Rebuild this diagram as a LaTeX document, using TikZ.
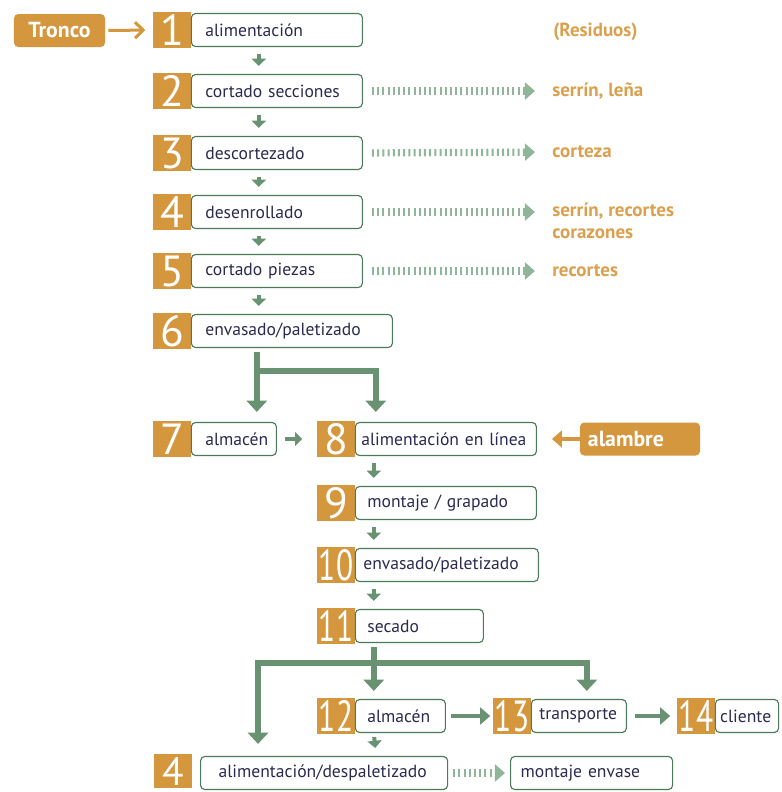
\documentclass[tikz,border=0pt]{standalone}
\usepackage{fontspec}
\setmainfont{PT Sans}
\usetikzlibrary{arrows.meta}

\definecolor{woodOrange}{RGB}{212,151,62}
\definecolor{resOrange}{RGB}{219,160,78}
\definecolor{boxGreen}{RGB}{74,122,88}
\definecolor{arrowGreen}{RGB}{104,146,114}
\definecolor{dotGreen}{RGB}{143,182,152}
\definecolor{stepText}{RGB}{42,42,82}

\begin{document}
\begin{tikzpicture}[
    x=0.025cm, y=-0.025cm,
    numsq/.style={rectangle, fill=woodOrange, text=white, minimum width=0.925cm, minimum height=0.9cm, inner sep=0pt, font=\fontsize{31}{31}\selectfont},
    stepbox/.style={rectangle, draw=boxGreen, fill=white, line width=0.8pt, rounded corners=3pt, minimum height=0.825cm, inner xsep=0.35cm, inner ysep=0pt, align=left, anchor=west, text=stepText, font=\fontsize{12.5}{14}\selectfont},
    inbox/.style={rectangle, fill=woodOrange, rounded corners=3pt, minimum height=0.825cm, text=white, font=\bfseries\fontsize{15.5}{17}\selectfont},
    reslabel/.style={anchor=west, inner sep=0pt, text=resOrange, align=left, font=\bfseries\fontsize{13.5}{15.5}\selectfont},
    smallarr/.style={-{Triangle[width=0.35cm,length=0.18cm]}, line width=0.1cm, arrowGreen},
    bigarr/.style={-{Triangle[width=0.5cm,length=0.28cm]}, line width=0.15cm, arrowGreen},
    medarr/.style={-{Triangle[width=0.42cm,length=0.25cm]}, line width=0.12cm, arrowGreen},
    dotarr/.style={-{Triangle[width=0.42cm,length=0.25cm]}, line width=0.18cm, dotGreen, dash pattern=on 0.05cm off 0.08cm},
    inarr/.style={-{Straight Barb[width=0.4cm,length=0.2cm]}, line width=0.075cm, woodOrange}
]
    \useasboundingbox (0,0) rectangle (782,792);

    % Input
    \node[inbox, minimum width=2.275cm] (tronco) at (59.5,30.5) {Tronco};

    % First line: log processing
    \node[numsq] (q1) at (172,30) {1};
    \node[stepbox, text width=3.575cm] (b1) at (q1.east) {alimentación};
    \node[numsq] (q2) at (172,91) {2};
    \node[stepbox, text width=3.575cm] (b2) at (q2.east) {cortado secciones};
    \node[numsq] (q3) at (172,153) {3};
    \node[stepbox, text width=3.575cm] (b3) at (q3.east) {descortezado};
    \node[numsq] (q4) at (172,212) {4};
    \node[stepbox, text width=3.575cm] (b4) at (q4.east) {desenrollado};
    \node[numsq] (q5) at (172,271) {5};
    \node[stepbox, text width=3.575cm] (b5) at (q5.east) {cortado piezas};
    \node[numsq] (q6) at (172,331) {6};
    \node[stepbox, text width=4.325cm] (b6) at (q6.east) {envasado/paletizado};

    % Residues
    \node[reslabel] (res) at (553,32) {(Residuos)};
    \node[reslabel] (r2) at (552,91) {serrín, leña};
    \node[reslabel] (r3) at (552,152) {corteza};
    \node[reslabel, anchor=north west] (r4) at (552,203) {serrín, recortes\\corazones};
    \node[reslabel] (r5) at (552,271) {recortes};

    % Second line: assembly
    \node[numsq] (q7) at (172,439) {7};
    \node[stepbox, text width=1.425cm] (b7) at (q7.east) {almacén};
    \node[numsq] (q8) at (336,439) {8};
    \node[stepbox, inner xsep=0.15cm, text width=4.225cm] (b8) at (q8.east) {alimentación en línea};
    \node[inbox, minimum width=3cm, text width=2.6cm, align=left] (alambre) at (640,439) {alambre};
    \node[numsq] (q9) at (336,503) {9};
    \node[stepbox, inner xsep=0.3cm, text width=3.925cm] (b9) at (q9.east) {montaje / grapado};
    \node[numsq] (q10) at (336,565) {\scalebox{0.72}[1]{10}};
    \node[stepbox, inner xsep=0.2cm, text width=4.175cm] (b10) at (q10.east) {envasado/paletizado};
    \node[numsq] (q11) at (336,626) {\scalebox{0.72}[1]{11}};
    \node[stepbox, inner xsep=0.3cm, text width=2.6cm] (b11) at (q11.east) {secado};

    % Distribution
    \node[numsq] (q12) at (336,716) {\scalebox{0.72}[1]{12}};
    \node[stepbox, inner xsep=0.3cm, text width=1.65cm] (b12) at (q12.east) {almacén};
    \node[numsq] (q13) at (512,716) {\scalebox{0.72}[1]{13}};
    \node[stepbox, inner xsep=0.2cm, text width=1.975cm] (b13) at (q13.east) {transporte};
    \node[numsq] (q14) at (696,716) {\scalebox{0.72}[1]{14}};
    \node[stepbox, inner xsep=0.12cm, text width=1.34cm] (b14) at (q14.east) {cliente};
    \node[numsq, minimum height=0.85cm, font=\fontsize{28}{28}\selectfont] (q15) at (173,771) {4};
    \node[stepbox, inner xsep=0.45cm, text width=5.275cm] (b15) at (200,773) {alimentación/despaletizado};
    \node[stepbox, inner xsep=0.25cm, text width=3.55cm] (b16) at (510,773) {montaje envase};

    % Arrows first line
    \draw[inarr, shorten <=0.075cm, shorten >=0.2cm] (tronco.east) -- (q1.west);
    \foreach \a/\b in {b1/b2, b2/b3, b3/b4, b4/b5, b5/b6}
        \draw[smallarr, shorten <=0.175cm, shorten >=0.2cm] ([xshift=1.7cm]\a.south west) -- ([xshift=1.7cm]\b.north west);
    \foreach \a/\b in {b2/r2, b3/r3, b5/r5}
        \draw[dotarr, shorten <=0.225cm, shorten >=0.425cm] (\a.east) -- (\b.west);
    \draw[dotarr, shorten <=0.225cm, shorten >=0.425cm] (b4.east) -- (b4.east -| r4.west);

    % Split to storage and assembly
    \draw[bigarr, shorten <=0.1cm, shorten >=0.25cm] ([xshift=1.65cm]b6.south west) -- ([xshift=1.65cm]b7.north west);
    \draw[bigarr, shorten >=0.25cm] ([xshift=1.65cm]b6.south west) ++(0,-0.575cm) -| ([xshift=0.525cm]b8.north west);
    \draw[smallarr, shorten <=0.2cm, shorten >=0.375cm] (b7.east) -- (q8.west);
    \draw[inarr, -{Triangle[width=0.42cm,length=0.25cm]}, line width=0.1cm, shorten >=0.375cm] (alambre.west) -- (b8.east);
    \foreach \a/\b in {b8/b9, b9/b10, b10/b11}
        \draw[smallarr, shorten <=0.175cm, shorten >=0.2cm] ([xshift=0.475cm]\a.south west) -- ([xshift=0.475cm]\b.north west);

    % Split after drying
    \draw[bigarr, shorten <=0.1cm, shorten >=0.2cm] ([xshift=0.475cm]b11.south west) -- ([xshift=0.475cm]b12.north west);
    \draw[bigarr, shorten >=0.2cm] ([xshift=0.475cm]b11.south west) ++(0,-0.5cm) -| ([xshift=1.4cm]b13.north west);
    \draw[bigarr, shorten >=0.3cm] ([xshift=0.475cm]b11.south west) ++(0,-0.5cm) -| ([xshift=1.45cm]b15.north west);
    \draw[medarr, shorten <=0.125cm, shorten >=0.075cm] (b12.east) -- (q13.west);
    \draw[medarr, shorten <=0.2cm, shorten >=0.175cm] (b13.east) -- (q14.west);
    \draw[smallarr, shorten <=0.1cm, shorten >=0.2cm] ([xshift=0.475cm]b12.south west) -- ([xshift=4.4cm]b15.north west);
    \draw[dotarr, shorten <=0.125cm, shorten >=0.125cm] (b15.east) -- (b16.west);
\end{tikzpicture}
\end{document}
